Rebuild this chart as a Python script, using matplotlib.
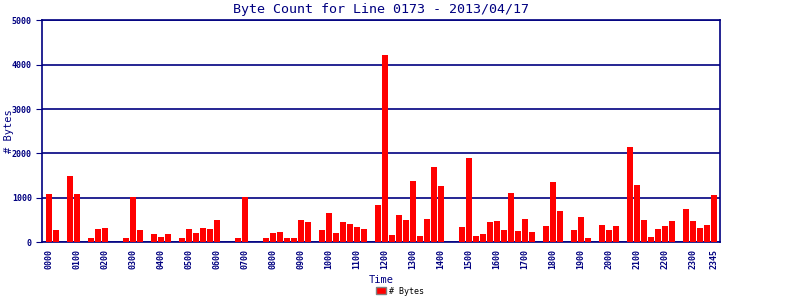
import matplotlib.pyplot as plt
from matplotlib.patches import Patch

# byte counts every 15 minutes, 0000 .. 2345
byte_counts = [
    1090, 280, 0, 1490, 1090, 0, 100, 300, 325, 0, 0, 100,
    1030, 280, 0, 190, 120, 190, 0, 100, 300, 210, 325, 300,
    510, 0, 0, 100, 1030, 0, 0, 100, 210, 235, 100, 100,
    510, 460, 0, 280, 665, 210, 460, 415, 350, 300, 0, 850,
    4210, 165, 620, 510, 1390, 145, 530, 1690, 1260, 0, 0, 350,
    1890, 145, 190, 460, 485, 280, 1100, 255, 530, 235, 0, 370,
    1350, 710, 0, 280, 575, 100, 0, 395, 280, 370, 0, 2150,
    1300, 510, 120, 300, 370, 485, 0, 760, 485, 325, 395, 1075,
]
tick_slots = list(range(0, 96, 4)) + [95]
tick_labels = ["%02d00" % h for h in range(24)] + ["2345"]

navy = "#000080"
mono = "DejaVu Sans Mono"

fig = plt.figure(figsize=(8, 3), dpi=100)
ax = fig.add_axes([0.052, 0.192, 0.848, 0.741])

ax.bar(range(len(byte_counts)), byte_counts, width=0.86, color="#ff0000", zorder=3)

ax.set_xlim(-1.04, 95.86)
ax.set_ylim(0, 5000)
ax.set_yticks([0, 1000, 2000, 3000, 4000, 5000])
ax.yaxis.grid(True, color=navy, linewidth=1.2, zorder=1)
for s in ax.spines.values():
    s.set_color(navy)
    s.set_linewidth(1.2)

ax.set_xticks(tick_slots)
ax.set_xticklabels(tick_labels, rotation=90, family=mono, fontsize=6,
                   fontweight="bold", color=navy)
ax.tick_params(axis="x", length=0, pad=5)
ax.tick_params(axis="y", length=4, color=navy, direction="out", pad=3)
for lbl in ax.get_yticklabels():
    lbl.set_family(mono)
    lbl.set_fontsize(6)
    lbl.set_fontweight("bold")
    lbl.set_color(navy)

ax.set_title("Byte Count for Line 0173 - 2013/04/17", family=mono,
             fontsize=9.6, color=navy, pad=5)
ax.set_xlabel("Time", family=mono, fontsize=7.5, color=navy, labelpad=4)
ax.set_ylabel("# Bytes", family=mono, fontsize=7.5, color=navy)
ax.yaxis.set_label_coords(-0.041, 0.5)

fig.legend(handles=[Patch(facecolor="#ff0000", edgecolor="#808080", label="# Bytes")],
           loc="lower center", bbox_to_anchor=(0.5, -0.01), frameon=False,
           prop={"family": mono, "size": 6}, handlelength=1.2, handleheight=0.9,
           handletextpad=0.4)

plt.savefig("out.png", dpi=100)
